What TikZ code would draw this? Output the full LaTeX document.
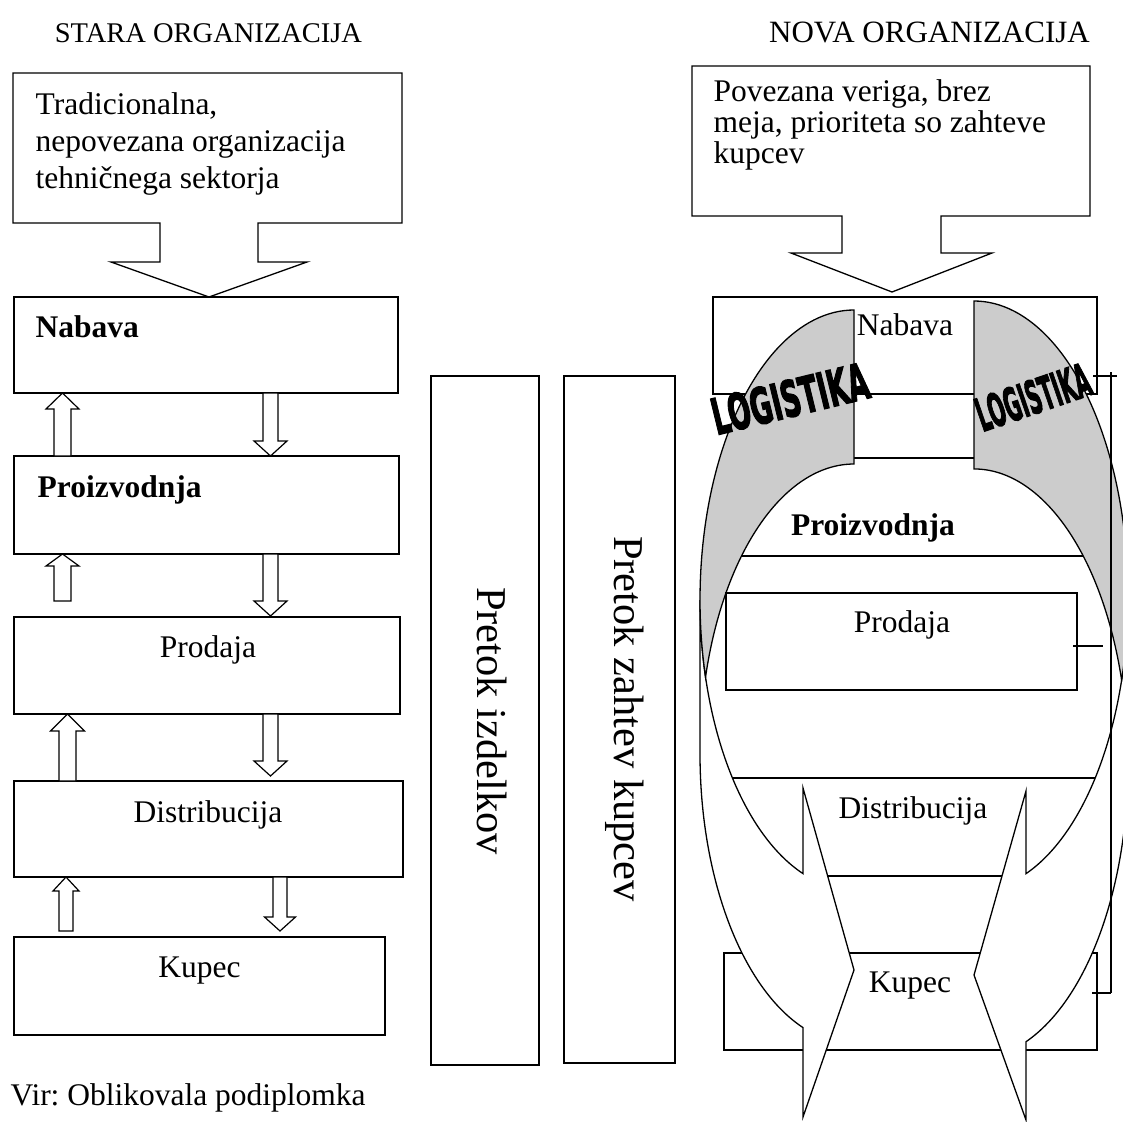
\documentclass[tikz,border=0pt]{standalone}
\usepackage{fontspec}
\setmainfont{Liberation Serif}
\newfontfamily\logofont{DejaVu Sans}[BoldFeatures={FakeBold=3}]
\definecolor{backband}{gray}{0.8}
\frenchspacing

% hollow block arrows: x centre, half shaft, half head, head length, tip/top y, tail/tip y
\newcommand{\upblk}[6]{\draw[blk] (#1-#2,#6) -- (#1-#2,#5+#4) -- (#1-#3,#5+#4) -- (#1,#5) -- (#1+#3,#5+#4) -- (#1+#2,#5+#4) -- (#1+#2,#6) -- cycle;}
\newcommand{\downblk}[6]{\draw[blk] (#1-#2,#5) -- (#1-#2,#6-#4) -- (#1-#3,#6-#4) -- (#1,#6) -- (#1+#3,#6-#4) -- (#1+#2,#6-#4) -- (#1+#2,#5) -- cycle;}

\begin{document}
\begin{tikzpicture}[x=1pt,y=-1pt,line width=1.3pt,line join=miter,
  box/.style={draw,fill=white,inner sep=0pt,outer sep=0pt},
  lbl/.style={inner sep=0pt,font=\fontsize{31.5}{36.7}\selectfont},
  lblb/.style={inner sep=0pt,font=\fontsize{31.5}{36.7}\selectfont\bfseries},
  vlbl/.style={inner sep=0pt,font=\fontsize{42.5}{48}\selectfont,rotate=-90,anchor=base},
  blk/.style={draw,fill=white,line width=1.2pt},
  front/.style={draw,fill=white,line width=1.3pt},
  back/.style={draw,fill=backband,line width=1.3pt},
  logo/.style={inner sep=0pt,font=\logofont\bfseries}]
\useasboundingbox (0,0) rectangle (1123,1121);
\fill[white] (0,0) rectangle (1123,1121);

% ---------- headings ----------
\node[inner sep=0pt,font=\fontsize{28.5}{33}\selectfont,anchor=base] (ttlold) at (208.5,43) {STARA ORGANIZACIJA};
\node[inner sep=0pt,font=\fontsize{31}{36}\selectfont,anchor=base] (ttlnew) at (929.5,43) {NOVA ORGANIZACIJA};

% ---------- old organisation ----------
\draw[blk,line width=1.3pt] (13,73) -- (402,73) -- (402,223) -- (258,223) -- (258,262) -- (307,262)
  -- (209,297) -- (111,262) -- (160,262) -- (160,223) -- (13,223) -- cycle;
\node[lbl,align=left,anchor=base west] (oldtxt) at (35,188)
  {Tradicionalna,\\nepovezana organizacija\\tehničnega sektorja};

\node[box,minimum width=384pt,minimum height=96pt] (nab) at (206,345) {};
\node[box,minimum width=385pt,minimum height=98pt] (pro) at (206.5,505) {};
\node[box,minimum width=386pt,minimum height=97pt] (prod) at (207,665.5) {};
\node[box,minimum width=389pt,minimum height=96pt] (dist) at (208.5,829) {};
\node[box,minimum width=371pt,minimum height=98pt] (kup) at (199.5,986) {};

\node[lblb,anchor=base west] (nabt) at (35,337) {Nabava};
\node[lblb,anchor=base west] (prot) at (37,497) {Proizvodnja};
\node[lbl,anchor=base] (prodt) at (208,657) {Prodaja};
\node[lbl,anchor=base] (distt) at (208,822) {Distribucija};
\node[lbl,anchor=base] (kupt) at (199.5,977) {Kupec};

\upblk{62.5}{8.5}{16.5}{16}{393}{456}
\downblk{270.5}{7.5}{16.5}{15}{393}{456}
\upblk{62.5}{8.5}{16.5}{12}{554}{601}
\downblk{270.5}{7.5}{16.5}{15}{554}{616}
\upblk{67.5}{8.5}{17}{17}{714}{781}
\downblk{270.5}{7.5}{16.5}{15}{714}{776}
\upblk{66}{7}{13}{14}{877}{931}
\downblk{280}{7}{15.5}{14}{877}{931}

\node[lbl,anchor=base west] (src) at (10,1105) {Vir: Oblikovala podiplomka};

% ---------- flow columns ----------
\node[box,minimum width=108pt,minimum height=689pt] (flowa) at (485,720.5) {};
\node[box,minimum width=111pt,minimum height=687pt] (flowb) at (619.5,719.5) {};
\node[vlbl] (flowat) at (477,721) {Pretok izdelkov};
\node[vlbl] (flowbt) at (614,719) {Pretok zahtev kupcev};

% ---------- new organisation ----------
\draw[blk,line width=1.3pt] (692,66) -- (1090,66) -- (1090,216) -- (941,216) -- (941,253) -- (992,253)
  -- (892,292) -- (791,253) -- (842,253) -- (842,216) -- (692,216) -- cycle;
\node[lbl,font=\fontsize{31.5}{31}\selectfont,align=left,anchor=base west] (newtxt) at (713,163)
  {Povezana veriga, brez\\meja, prioriteta so zahteve\\kupcev};

\node[box,minimum width=384pt,minimum height=97pt] (rnab) at (905,345.5) {};
\node[box,minimum width=365pt,minimum height=98pt] (rpro) at (907.5,507) {};
\node[box,minimum width=380pt,minimum height=98pt] (rdist) at (910,827) {};
\node[box,minimum width=373pt,minimum height=97pt] (rkup) at (910.5,1001.5) {};
\node[lbl,anchor=base] (rnabt) at (905,335) {Nabava};
\node[lblb,anchor=base] (rprot) at (873,535) {Proizvodnja};
\node[lbl,anchor=base] (rdistt) at (913,818) {Distribucija};
\node[lbl,anchor=base] (rkupt) at (910,992) {Kupec};

% left curved arrow: front of the ribbon, then its shaded back
\draw[front] (700,600) arc[start angle=180,end angle=109.34,x radius=154,y radius=290]
  -- (803,788) -- (854,970) -- (803,1117) -- (803,1027.6)
  arc[start angle=109.34,end angle=180,x radius=154,y radius=290] -- cycle;
\draw[back] (854,310) arc[start angle=270,end angle=164.6,x radius=154,y radius=290]
  arc[start angle=195.4,end angle=270,x radius=154,y radius=290] -- cycle;

% right curved arrow
\draw[front] (1128,596) arc[start angle=0,end angle=70.27,x radius=154,y radius=295]
  -- (1026,791) -- (974,975) -- (1026,1120) -- (1026,1041.7)
  arc[start angle=70.27,end angle=0,x radius=154,y radius=295] -- cycle;
\draw[back] (974,301) arc[start angle=-90,end angle=16.54,x radius=154,y radius=295]
  arc[start angle=-16.54,end angle=-90,x radius=154,y radius=295] -- cycle;

\node[box,minimum width=351pt,minimum height=97pt] (rprod) at (901.5,641.5) {};
\node[lbl,anchor=base] (rprodt) at (902,632) {Prodaja};

% word-art labels on the ribbons
\node[logo,rotate=13.7] (logl) at (790,398.5) {\resizebox{160pt}{37pt}{LOGISTIKA}};
\node[logo,rotate=18.9] (logr) at (1033,397) {\resizebox{118pt}{34pt}{LOGISTIKA}};

% bracket lines at the right edge
\coordinate (bt) at (1111,372);
\coordinate (bb) at (1111,993);
\draw[line width=1.2pt] (bt) -- (bb);
\draw[line width=1.2pt] (1093,376) -- (1117,376);
\draw[line width=1.2pt] (1092,993) -- (bb);
\draw[line width=1.2pt] (1073,646) -- (1103,646);
\end{tikzpicture}
\end{document}
